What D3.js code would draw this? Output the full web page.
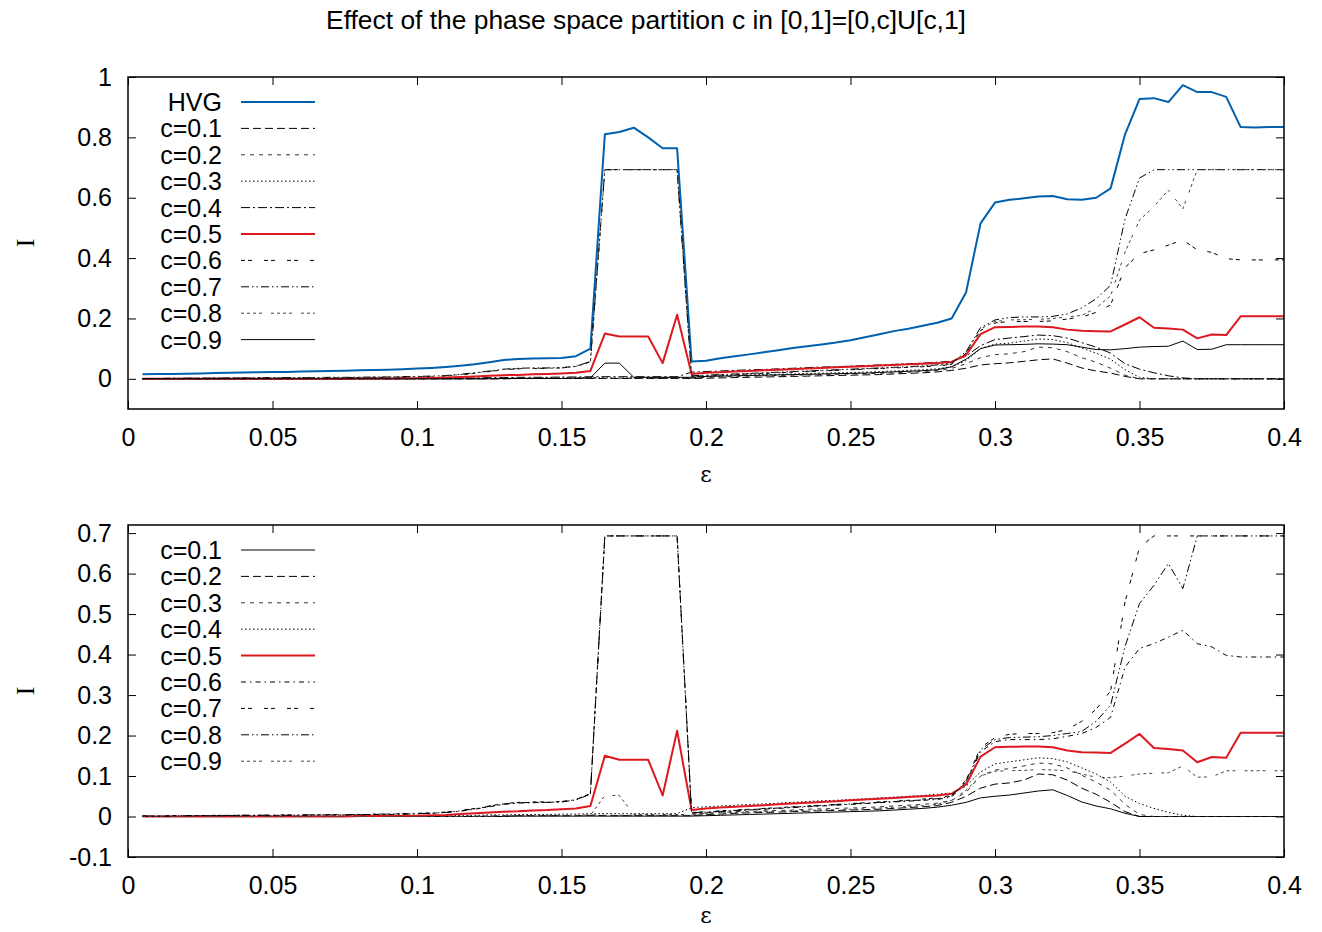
<!DOCTYPE html>
<html>
<head>
<meta charset="utf-8">
<script src="https://cdn.jsdelivr.net/npm/d3@7/dist/d3.min.js"></script>
<style>
  body { margin: 0; background: #fff; }
  text { font-family: "Liberation Sans", Arial, sans-serif; fill: #000; }
</style>
</head>
<body>
<svg id="chart" width="1322" height="932"></svg>
<script>
// epsilon grid (x values)
const eps = [
  0.005, 0.01, 0.015, 0.02, 0.025, 0.03, 0.035, 0.04, 0.045, 0.05,
  0.055, 0.06, 0.065, 0.07, 0.075, 0.08, 0.085, 0.09, 0.095, 0.1,
  0.105, 0.11, 0.115, 0.12, 0.125, 0.13, 0.135, 0.14, 0.145, 0.15,
  0.155, 0.16, 0.165, 0.17, 0.175, 0.18, 0.185, 0.19, 0.195, 0.2,
  0.205, 0.21, 0.215, 0.22, 0.225, 0.23, 0.235, 0.24, 0.245, 0.25,
  0.255, 0.26, 0.265, 0.27, 0.275, 0.28, 0.285, 0.29, 0.295, 0.3,
  0.305, 0.31, 0.315, 0.32, 0.325, 0.33, 0.335, 0.34, 0.345, 0.35,
  0.355, 0.36, 0.365, 0.37, 0.375, 0.38, 0.385, 0.39, 0.395, 0.4
];

const hvg = [
  0.015, 0.016, 0.016, 0.017, 0.018, 0.019, 0.020, 0.021, 0.022, 0.023,
  0.023, 0.024, 0.025, 0.026, 0.027, 0.028, 0.029, 0.030, 0.032, 0.034,
  0.036, 0.039, 0.043, 0.048, 0.055, 0.062, 0.066, 0.067, 0.068, 0.069,
  0.075, 0.100, 0.810, 0.818, 0.832, 0.800, 0.764, 0.764, 0.057, 0.060,
  0.068, 0.075, 0.081, 0.088, 0.095, 0.102, 0.108, 0.114, 0.120, 0.128,
  0.138, 0.148, 0.158, 0.166, 0.176, 0.186, 0.200, 0.287, 0.515, 0.584,
  0.593, 0.598, 0.604, 0.606, 0.595, 0.593, 0.600, 0.631, 0.810, 0.927,
  0.930, 0.917, 0.973, 0.950, 0.950, 0.934, 0.834, 0.833, 0.834, 0.834
];

const c01 = [
  0, 0, 0, 0, 0, 0, 0, 0, 0, 0,
  0, 0, 0, 0, 0, 0, 0, 0, 0, 0,
  0, 0, 0, 0, 0, 0, 0.001, 0.001, 0.001, 0.001,
  0.001, 0.001, 0.001, 0.001, 0.001, 0.001, 0.001, 0.001, 0.001, 0.002,
  0.003, 0.004, 0.005, 0.006, 0.007, 0.008, 0.009, 0.010, 0.011, 0.012,
  0.013, 0.014, 0.016, 0.018, 0.020, 0.023, 0.028, 0.035, 0.046, 0.050,
  0.053, 0.058, 0.063, 0.066, 0.052, 0.036, 0.026, 0.019, 0.008, 0,
  0, 0, 0, 0, 0, 0, 0, 0, 0, 0
];

const c02 = [
  0, 0, 0, 0, 0, 0, 0, 0, 0, 0,
  0, 0, 0, 0, 0, 0, 0, 0, 0, 0,
  0, 0, 0, 0, 0.001, 0.001, 0.002, 0.002, 0.002, 0.002,
  0.002, 0.003, 0.002, 0.002, 0.002, 0.002, 0.002, 0.002, 0.002, 0.005,
  0.006, 0.008, 0.009, 0.010, 0.011, 0.012, 0.013, 0.014, 0.015, 0.016,
  0.017, 0.018, 0.020, 0.022, 0.024, 0.027, 0.035, 0.050, 0.070, 0.080,
  0.083, 0.090, 0.105, 0.103, 0.090, 0.070, 0.055, 0.035, 0.012, 0,
  0, 0, 0, 0, 0, 0, 0, 0, 0, 0
];

const c03 = [
  0, 0, 0, 0, 0, 0, 0, 0, 0, 0,
  0, 0, 0, 0, 0, 0, 0, 0, 0, 0,
  0, 0, 0.001, 0.001, 0.001, 0.002, 0.002, 0.002, 0.003, 0.003,
  0.003, 0.004, 0.003, 0.003, 0.003, 0.003, 0.003, 0.003, 0.003, 0.008,
  0.010, 0.012, 0.013, 0.014, 0.015, 0.016, 0.018, 0.019, 0.020, 0.021,
  0.022, 0.024, 0.026, 0.028, 0.030, 0.033, 0.040, 0.060, 0.100, 0.115,
  0.118, 0.125, 0.132, 0.130, 0.120, 0.102, 0.085, 0.065, 0.030, 0.005,
  0, 0, 0, 0, 0, 0, 0, 0, 0, 0
];

const c04 = [
  0, 0, 0, 0, 0, 0.001, 0.001, 0.001, 0.001, 0.001,
  0.001, 0.001, 0.001, 0.001, 0.001, 0.002, 0.002, 0.002, 0.002, 0.002,
  0.002, 0.002, 0.003, 0.003, 0.004, 0.004, 0.005, 0.005, 0.005, 0.006,
  0.006, 0.007, 0.007, 0.007, 0.007, 0.007, 0.007, 0.007, 0.022, 0.024,
  0.026, 0.028, 0.030, 0.031, 0.033, 0.035, 0.037, 0.039, 0.040, 0.042,
  0.044, 0.046, 0.048, 0.050, 0.052, 0.055, 0.058, 0.075, 0.110, 0.130,
  0.135, 0.140, 0.145, 0.143, 0.135, 0.120, 0.105, 0.085, 0.050, 0.032,
  0.020, 0.010, 0.003, 0, 0, 0, 0, 0, 0, 0
];

const c05 = [
  0, 0, 0, 0, 0, 0, 0, 0, 0, 0,
  0, 0, 0, 0, 0, 0.001, 0.001, 0.001, 0.002, 0.002,
  0.003, 0.004, 0.006, 0.008, 0.010, 0.012, 0.013, 0.015, 0.016, 0.018,
  0.020, 0.026, 0.150, 0.140, 0.140, 0.140, 0.052, 0.212, 0.016, 0.020,
  0.022, 0.024, 0.026, 0.028, 0.030, 0.032, 0.034, 0.036, 0.038, 0.040,
  0.042, 0.044, 0.046, 0.048, 0.050, 0.052, 0.056, 0.079, 0.148, 0.171,
  0.172, 0.173, 0.173, 0.171, 0.163, 0.159, 0.158, 0.157, 0.180, 0.204,
  0.169, 0.167, 0.163, 0.134, 0.147, 0.145, 0.207, 0.207, 0.207, 0.207
];

const c06 = [
  0.001, 0.001, 0.001, 0.002, 0.002, 0.002, 0.002, 0.003, 0.003, 0.003,
  0.003, 0.003, 0.004, 0.004, 0.004, 0.004, 0.005, 0.005, 0.006, 0.007,
  0.008, 0.010, 0.013, 0.018, 0.024, 0.030, 0.033, 0.034, 0.035, 0.036,
  0.042, 0.056, 0.693, 0.693, 0.693, 0.693, 0.693, 0.693, 0.008, 0.010,
  0.012, 0.014, 0.016, 0.018, 0.020, 0.022, 0.024, 0.026, 0.028, 0.030,
  0.032, 0.034, 0.036, 0.038, 0.040, 0.042, 0.048, 0.085, 0.160, 0.185,
  0.190, 0.190, 0.190, 0.192, 0.198, 0.205, 0.220, 0.245, 0.369, 0.415,
  0.427, 0.443, 0.460, 0.427, 0.419, 0.398, 0.394, 0.394, 0.394, 0.394
];

const c07 = [
  0.001, 0.001, 0.002, 0.002, 0.002, 0.003, 0.003, 0.003, 0.003, 0.004,
  0.004, 0.004, 0.004, 0.005, 0.005, 0.005, 0.006, 0.006, 0.007, 0.008,
  0.009, 0.011, 0.015, 0.020, 0.026, 0.032, 0.035, 0.036, 0.036, 0.037,
  0.042, 0.057, 0.693, 0.693, 0.693, 0.693, 0.693, 0.693, 0.010, 0.012,
  0.014, 0.016, 0.018, 0.020, 0.022, 0.024, 0.026, 0.028, 0.030, 0.032,
  0.034, 0.036, 0.038, 0.040, 0.043, 0.046, 0.052, 0.090, 0.170, 0.195,
  0.203, 0.205, 0.205, 0.207, 0.215, 0.235, 0.265, 0.310, 0.530, 0.665,
  0.693, 0.693, 0.693, 0.693, 0.693, 0.693, 0.693, 0.693, 0.693, 0.693
];

const c08 = [
  0.001, 0.001, 0.001, 0.002, 0.002, 0.002, 0.003, 0.003, 0.003, 0.003,
  0.003, 0.004, 0.004, 0.004, 0.004, 0.005, 0.005, 0.006, 0.006, 0.007,
  0.008, 0.010, 0.014, 0.019, 0.025, 0.031, 0.034, 0.035, 0.035, 0.036,
  0.041, 0.055, 0.693, 0.693, 0.693, 0.693, 0.693, 0.693, 0.009, 0.011,
  0.013, 0.015, 0.017, 0.019, 0.021, 0.023, 0.025, 0.027, 0.029, 0.031,
  0.033, 0.035, 0.037, 0.039, 0.041, 0.044, 0.050, 0.088, 0.165, 0.190,
  0.195, 0.196, 0.197, 0.200, 0.205, 0.210, 0.235, 0.275, 0.420, 0.526,
  0.571, 0.625, 0.563, 0.693, 0.693, 0.693, 0.693, 0.693, 0.693, 0.693
];

const c09 = [
  0, 0, 0, 0, 0, 0, 0, 0, 0, 0,
  0, 0, 0, 0, 0, 0, 0, 0, 0, 0,
  0, 0, 0, 0, 0, 0.001, 0.001, 0.001, 0.001, 0.001,
  0.002, 0.003, 0.052, 0.052, 0.005, 0.005, 0.005, 0.005, 0.005, 0.008,
  0.009, 0.010, 0.011, 0.012, 0.013, 0.014, 0.015, 0.016, 0.017, 0.018,
  0.019, 0.021, 0.023, 0.025, 0.027, 0.030, 0.040, 0.065, 0.100, 0.112,
  0.113, 0.114, 0.116, 0.115, 0.113, 0.105, 0.097, 0.096, 0.100, 0.105,
  0.107, 0.108, 0.125, 0.097, 0.098, 0.113, 0.113, 0.113, 0.113, 0.113
];

const cLabels = ["c=0.1", "c=0.2", "c=0.3", "c=0.4", "c=0.5", "c=0.6", "c=0.7", "c=0.8", "c=0.9"];
const cSeries = [c01, c02, c03, c04, c05, c06, c07, c08, c09];

const xTicks = [0, 0.05, 0.1, 0.15, 0.2, 0.25, 0.3, 0.35, 0.4];
const yTicksTop = [0, 0.2, 0.4, 0.6, 0.8, 1];
const yTicksBottom = [-0.1, 0, 0.1, 0.2, 0.3, 0.4, 0.5, 0.6, 0.7];

const titleText = "Effect of the phase space partition c in [0,1]=[0,c]U[c,1]";

// line styles (gnuplot-like dash types)
const dt = {
  longDash: "8,4",
  shortDash: "4,5",
  dotted: "1.5,2.5",
  dashDot: "9,3,2,3",
  dashDotB: "5,4,1.5,4",
  pairDash: "4,3,4,12",
  dashDotDot: "8,3,1.5,3,1.5,3",
  quadDash: "3,3,3,3,3,3,3,9"
};
const blue = "#0060ad";
const red = "#dd181f";

const topStyles = [
  { color: "#000", width: 1, dash: dt.longDash },
  { color: "#333", width: 1, dash: dt.shortDash },
  { color: "#000", width: 1, dash: dt.dotted },
  { color: "#000", width: 1, dash: dt.dashDot },
  { color: red, width: 2, dash: null },
  { color: "#000", width: 1, dash: dt.pairDash },
  { color: "#000", width: 1, dash: dt.dashDotDot },
  { color: "#444", width: 1, dash: dt.quadDash },
  { color: "#000", width: 1, dash: null }
];
const bottomStyles = [
  { color: "#000", width: 1, dash: null },
  { color: "#000", width: 1, dash: dt.longDash },
  { color: "#333", width: 1, dash: dt.shortDash },
  { color: "#000", width: 1, dash: dt.dotted },
  { color: red, width: 2, dash: null },
  { color: "#000", width: 1, dash: dt.dashDotB },
  { color: "#000", width: 1, dash: dt.pairDash },
  { color: "#000", width: 1, dash: dt.dashDotDot },
  { color: "#444", width: 1, dash: dt.quadDash }
];

const svg = d3.select("#chart");
const fmt = (d) => String(+d.toFixed(2));
const fs = 25;

svg.append("text")
  .attr("x", 646)
  .attr("y", 20)
  .attr("dy", "0.35em")
  .attr("text-anchor", "middle")
  .style("font-size", "26.4px")
  .text(titleText);

const drawPanel = (cfg) => {
  const x = d3.scaleLinear().domain([0, 0.4]).range([cfg.left, cfg.right]);
  const y = d3.scaleLinear().domain(cfg.yDomain).range([cfg.bottom, cfg.top]);
  const g = svg.append("g");

  const clipId = "clip" + cfg.id;
  svg.append("clipPath").attr("id", clipId)
    .append("rect")
    .attr("x", cfg.left).attr("y", cfg.top)
    .attr("width", cfg.right - cfg.left).attr("height", cfg.bottom - cfg.top);

  // axes with inward ticks on all four sides
  const xb = g.append("g").attr("transform", `translate(0,${cfg.bottom})`)
    .call(d3.axisBottom(x).tickValues(xTicks).tickFormat(fmt).tickSize(-8).tickPadding(19));
  const xt = g.append("g").attr("transform", `translate(0,${cfg.top})`)
    .call(d3.axisTop(x).tickValues(xTicks).tickFormat("").tickSize(-8));
  const yl = g.append("g").attr("transform", `translate(${cfg.left},0)`)
    .call(d3.axisLeft(y).tickValues(cfg.yTicks).tickFormat(fmt).tickSize(-8).tickPadding(16));
  const yr = g.append("g").attr("transform", `translate(${cfg.right},0)`)
    .call(d3.axisRight(y).tickValues(cfg.yTicks).tickFormat("").tickSize(-8));
  [xb, xt, yl, yr].forEach((a) => {
    a.select(".domain").remove();
    a.selectAll(".tick line").attr("stroke", "#000").attr("stroke-width", 1);
    a.selectAll(".tick text")
      .style("font-family", '"Liberation Sans", Arial, sans-serif')
      .style("font-size", fs + "px")
      .attr("fill", "#000");
  });

  // curves
  const line = d3.line().x((d) => x(d[0])).y((d) => y(d[1]));
  const plot = g.append("g").attr("clip-path", `url(#${clipId})`);
  cfg.series.forEach((s) => {
    plot.append("path")
      .datum(eps.map((e, i) => [e, s.values[i]]))
      .attr("d", line)
      .attr("fill", "none")
      .attr("stroke", s.style.color)
      .attr("stroke-width", s.style.width)
      .attr("stroke-dasharray", s.style.dash)
      .attr("stroke-linejoin", "round");
  });

  // border
  g.append("rect")
    .attr("x", cfg.left).attr("y", cfg.top)
    .attr("width", cfg.right - cfg.left).attr("height", cfg.bottom - cfg.top)
    .attr("fill", "none").attr("stroke", "#000").attr("stroke-width", 1.5);

  // legend
  const leg = g.append("g");
  cfg.series.forEach((s, i) => {
    const ly = cfg.legendTop + i * 26.4;
    leg.append("text")
      .attr("x", 222).attr("y", ly).attr("dy", "0.36em")
      .attr("text-anchor", "end")
      .style("font-size", fs + "px")
      .text(s.label);
    leg.append("line")
      .attr("x1", 241).attr("x2", 315).attr("y1", ly).attr("y2", ly)
      .attr("stroke", s.style.color)
      .attr("stroke-width", s.style.width)
      .attr("stroke-dasharray", s.style.dash);
  });

  // axis labels
  g.append("text")
    .attr("x", (cfg.left + cfg.right) / 2).attr("y", cfg.bottom + cfg.xLabelOffset)
    .attr("dy", "0.3em").attr("text-anchor", "middle")
    .style("font-family", '"DejaVu Serif", "Liberation Serif", serif')
    .style("font-size", "22px")
    .text("ε");
  g.append("text")
    .attr("transform", `translate(25,${(cfg.top + cfg.bottom) / 2}) rotate(-90)`)
    .attr("dy", "0.35em").attr("text-anchor", "middle")
    .style("font-family", '"Liberation Serif", serif')
    .style("font-size", "26px")
    .text("I");
};

drawPanel({
  id: "top",
  left: 128, right: 1284, top: 77, bottom: 409,
  yDomain: [-0.1, 1],
  yTicks: yTicksTop,
  legendTop: 102,
  xLabelOffset: 66,
  series: [{ label: "HVG", values: hvg, style: { color: blue, width: 2, dash: null } }]
    .concat(cSeries.map((v, i) => ({ label: cLabels[i], values: v, style: topStyles[i] })))
});

drawPanel({
  id: "bottom",
  left: 128, right: 1284, top: 525, bottom: 857,
  yDomain: [-0.1, 0.72],
  yTicks: yTicksBottom,
  legendTop: 550,
  xLabelOffset: 59,
  series: cSeries.map((v, i) => ({ label: cLabels[i], values: v, style: bottomStyles[i] }))
});
</script>
</body>
</html>
